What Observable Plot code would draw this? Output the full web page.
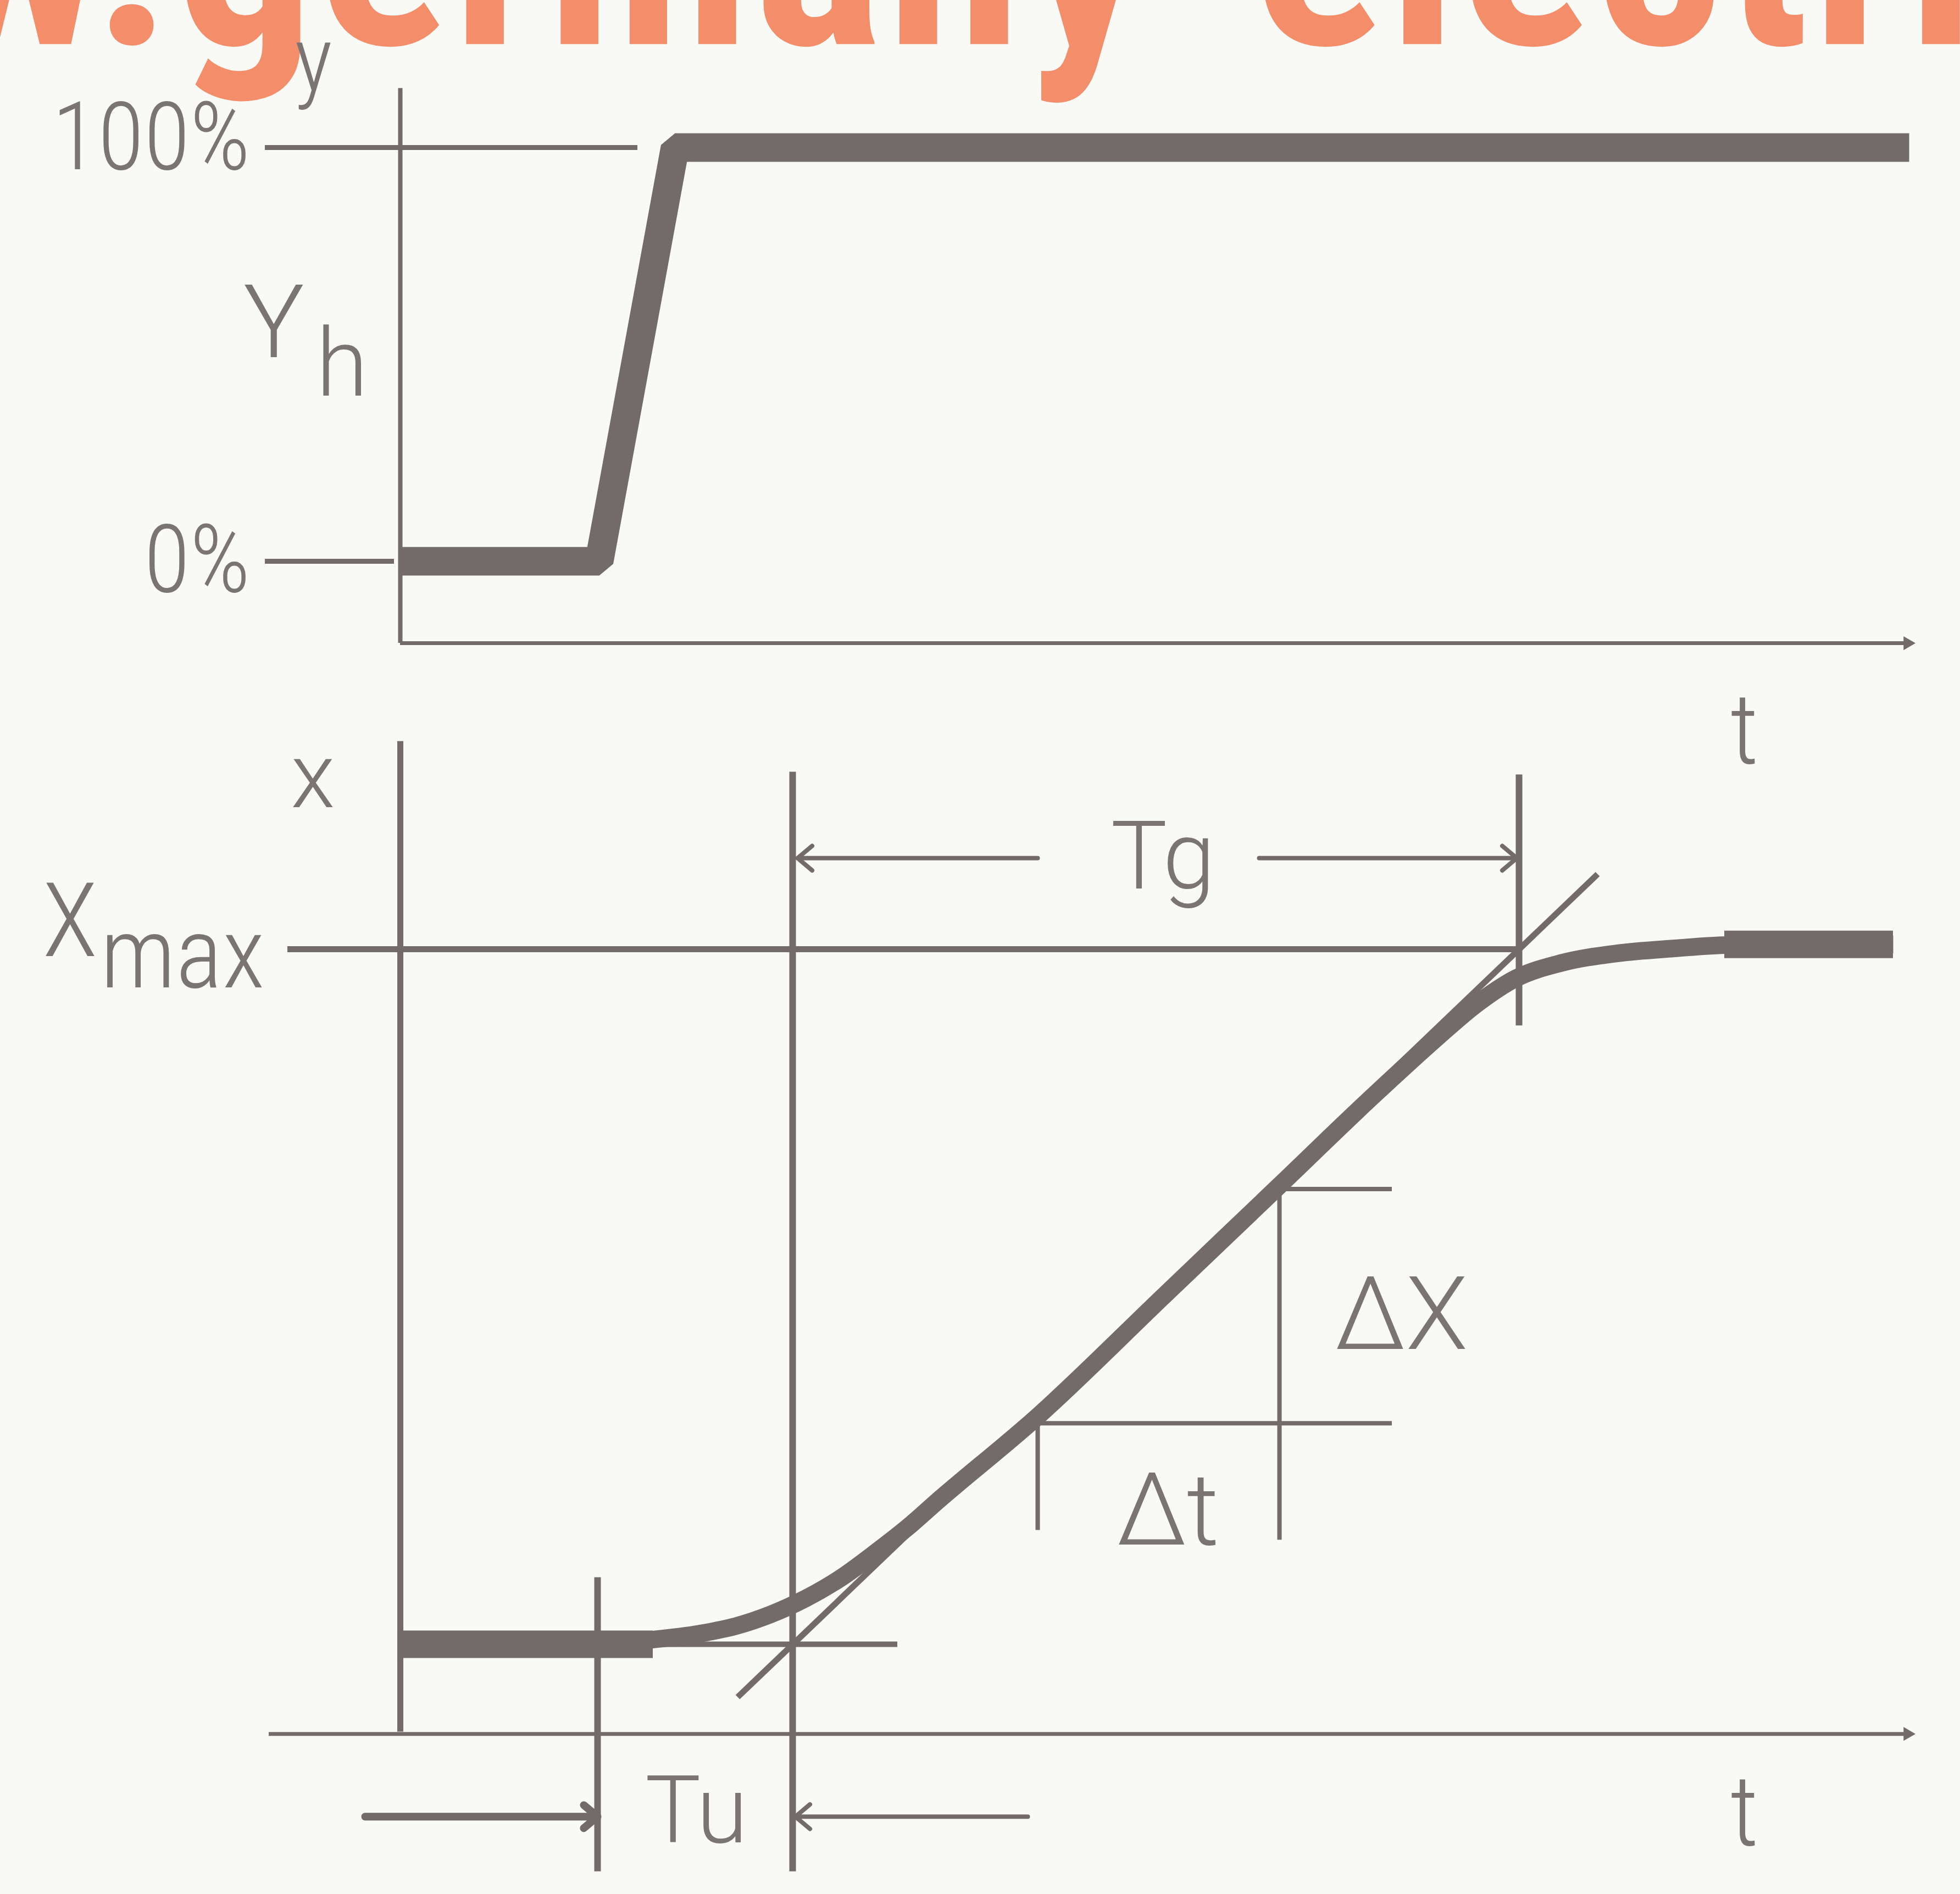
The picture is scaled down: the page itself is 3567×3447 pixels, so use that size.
<!DOCTYPE html>
<html>
<head>
<meta charset="utf-8">
<script src="https://cdn.jsdelivr.net/npm/d3@7"></script>
<script src="https://cdn.jsdelivr.net/npm/@observablehq/plot@0.6"></script>
<style>
  html, body { margin: 0; padding: 0; background: #f9f9f6; }
  #chart { width: 3567px; }
  #chart svg { display: block; }
</style>
</head>
<body>
<div id="chart"></div>
<script>
// ---------------- DATA (time t in arbitrary units, levels in % of full range) ----------------
// Upper panel: step of the manipulated variable y
const stepT = [0, 3.62, 5.0, 27.46];
const stepY = [0, 0, 100, 100];
const yTickValues = [0, 100];
const yTickLabels = ["0%", "100%"];
const yTickEnds = [-0.11, 4.32];

// Lower panel: step response x(t)
const respT = [0, 3.55, 4.5, 5.5, 6.1, 6.74, 7.38, 8.01, 8.65, 9.29, 9.72, 11.63, 13.88, 16.0, 17.72, 18.9, 19.57, 20.3, 21.12, 22.14, 23.16, 24.18, 27.17];
const respX = [0, 0, 0.6, 1.6, 2.6, 4.3, 6.6, 9.5, 13.2, 17.2, 20.2, 33.0, 50.0, 66.0, 79.0, 87.5, 92.0, 95.8, 98.0, 99.4, 100.1, 100.6, 100.7];

// Characteristic times
const Tu0 = 3.59;   // start of delay time Tu
const Tu1 = 7.14;   // end of Tu = start of Tg (tangent meets x = 0)
const Tg1 = 20.36;  // end of Tg (tangent meets Xmax)
const tangentT = [6.14, 21.79];
const tangentX = [-7.6, 110.8];

// Slope triangle (Δt, ΔX)
const slopeT = [11.6, 16.0];
const slopeX = [31.8, 65.5];

const labelsTop = ["y", "Y", "h"];
const labelsBottom = ["x", "X", "max", "Tg", "Tu", "ΔX", "Δt", "t", "t"];
const watermark = "w.germany-electri";

// ---------------- STYLE ----------------
const ink = "#736a6a";
const textInk = "#7a7474";
const fontNarrow = "'Roboto Condensed','Liberation Sans Narrow','Arial Narrow','DejaVu Sans Condensed',sans-serif";
const fontWide = "Roboto,'Liberation Sans','DejaVu Sans',sans-serif";
const wmFont = "'Liberation Sans Narrow','Arial Narrow','Roboto Condensed','DejaVu Sans Condensed',sans-serif";
const W = 3567;
const xScale = {type: "linear", domain: [0, 27.64], range: [728, 3492], axis: null};
const txtN = {fill: textInk, fontFamily: fontNarrow, fontWeight: 300, stroke: null};
const txtW = {fill: textInk, fontFamily: fontWide, fontWeight: 300, stroke: null};

// ---------------- UPPER PANEL ----------------
const stepData = stepT.map((t, i) => ({t, y: stepY[i]}));
const tickData = yTickValues.map((v, i) => ({v, label: yTickLabels[i], end: yTickEnds[i], ly: v === 100 ? 102 : 0}));

const topPlot = Plot.plot({
  width: W, height: 1195, margin: 0,
  x: xScale,
  y: {type: "linear", domain: [0, 100], range: [1021, 268], axis: null},
  style: {background: "transparent"},
  marks: [
    Plot.text([watermark], {x: -8.52, y: 125.0, text: d => d, textAnchor: "start", lineAnchor: "bottom",
      fontSize: 500, fontWeight: "bold", fontFamily: wmFont, fill: "#f48e6a"}),
    // axes
    Plot.ruleX([0], {x: d => d, y1: -19.8, y2: 114.3, stroke: ink, strokeWidth: 8}),
    Plot.ruleY([-19.8], {y: d => d, x1: 0, x2: 27.45, stroke: ink, strokeWidth: 7}),
    Plot.dot([-19.8], {x: 27.43, y: d => d, symbol: "triangle2", rotate: 90, r: 12, fill: ink, stroke: null}),
    // tick lines at 0 % and 100 %
    Plot.ruleY(tickData, {y: "v", x1: -2.46, x2: "end", stroke: ink, strokeWidth: 9}),
    Plot.text(tickData, {x: -2.73, y: "ly", text: "label", textAnchor: "end", fontSize: 172, ...txtN}),
    // step signal
    Plot.line(stepData, {x: "t", y: "y", stroke: ink, strokeWidth: 52, strokeLinejoin: "miter", strokeLinecap: "butt"}),
    // labels
    Plot.text([labelsTop[0]], {x: -1.58, y: 113.7, text: d => d, lineAnchor: "bottom", fontSize: 165, ...txtN}),
    Plot.text([labelsTop[1]], {x: -2.3, y: 49.3, text: d => d, lineAnchor: "bottom", fontSize: 185, ...txtW}),
    Plot.text([labelsTop[2]], {x: -1.06, y: 40.1, text: d => d, lineAnchor: "bottom", fontSize: 172, ...txtW})
  ]
});
// slight tracking on the watermark, as in the original
d3.select(topPlot).selectAll("text").filter(function() { return this.textContent === watermark; })
  .attr("letter-spacing", 6);

// ---------------- LOWER PANEL ----------------
const respData = respT.map((t, i) => ({t, x: respX[i]}));
const vRules = [
  {t: 0,   y1: -12.6, y2: 129.9, w: 11},
  {t: Tu0, y1: -32.7, y2: 9.6,   w: 12},
  {t: Tu1, y1: -32.7, y2: 125.5, w: 12},
  {t: Tg1, y1: 89.0,  y2: 125.1, w: 12},
  {t: slopeT[0], y1: 16.4, y2: slopeX[0], w: 8},
  {t: slopeT[1], y1: 15.0, y2: slopeX[1], w: 8}
];
const hRules = [
  {x: 100, t1: -2.05, t2: Tg1, w: 11},
  {x: 0, t1: 0, t2: 9.05, w: 10},
  {x: slopeX[0], t1: slopeT[0], t2: 18.05, w: 8},
  {x: slopeX[1], t1: slopeT[1], t2: 18.05, w: 8}
];
const thickEnds = [
  {x: 0, t1: 0, t2: 4.6},
  {x: 100.7, t1: 24.1, t2: 27.17}
];
const dimArrows = [
  {x1: 11.6, x2: 7.23, y: 113.1, w: 8, h: 6.5},
  {x1: 15.63, x2: 20.32, y: 113.1, w: 8, h: 6.5},
  {x1: -0.64, x2: Tu0, y: -24.8, w: 14, h: 3.5},
  {x1: 11.42, x2: 7.19, y: -24.8, w: 8, h: 6.5}
];
const lblB = [
  {s: labelsBottom[0], t: -1.59, x: 124.6, fs: 165, anchor: "middle", line: "middle", f: txtW},
  {s: labelsBottom[1], t: -6.01, x: 99.0, fs: 188, anchor: "middle", line: "bottom", f: txtN},
  {s: labelsBottom[2], t: -5.46, x: 94.5, fs: 180, anchor: "start", line: "bottom", f: txtN},
  {s: labelsBottom[3], t: 13.88, x: 113.1, fs: 172, anchor: "middle", line: "middle", f: txtW},
  {s: labelsBottom[4], t: 5.39, x: -24.2, fs: 170, anchor: "middle", line: "middle", f: txtW},
  {s: labelsBottom[5], t: 18.22, x: 47.2, fs: 185, anchor: "middle", line: "middle", f: txtW},
  {s: labelsBottom[6], t: 13.97, x: 19.0, fs: 183, anchor: "middle", line: "middle", f: txtW},
  {s: labelsBottom[7], t: 24.46, x: 131.3, fs: 180, anchor: "middle", line: "middle", f: txtN},
  {s: labelsBottom[8], t: 24.46, x: -24.3, fs: 180, anchor: "middle", line: "middle", f: txtN}
];

const bottomPlot = Plot.plot({
  width: W, height: 2252, margin: 0,
  x: xScale,
  y: {type: "linear", domain: [0, 100], range: [1797, 532], axis: null},
  style: {background: "transparent"},
  marks: [
    Plot.ruleX(vRules, {x: "t", y1: "y1", y2: "y2", stroke: ink, strokeWidth: "w"}),
    Plot.ruleY(hRules, {y: "x", x1: "t1", x2: "t2", stroke: ink, strokeWidth: "w"}),
    Plot.ruleY([-12.9], {y: d => d, x1: -2.39, x2: 27.45, stroke: ink, strokeWidth: 7}),
    Plot.dot([-12.9], {x: 27.43, y: d => d, symbol: "triangle2", rotate: 90, r: 12, fill: ink, stroke: null}),
    Plot.link([0], {x1: tangentT[0], y1: tangentX[0], x2: tangentT[1], y2: tangentX[1], stroke: ink, strokeWidth: 11}),
    Plot.line(respData, {x: "t", y: "x", curve: "monotone-x", stroke: ink, strokeWidth: 32, strokeLinecap: "butt"}),
    Plot.ruleY(thickEnds, {y: "x", x1: "t1", x2: "t2", stroke: ink, strokeWidth: 50}),
    ...dimArrows.map(a => Plot.arrow([a], {x1: "x1", x2: "x2", y1: "y", y2: "y", stroke: ink, strokeWidth: a.w, headLength: a.h, headAngle: 80})),
    ...lblB.map(l => Plot.text([l], {x: "t", y: "x", text: "s", textAnchor: l.anchor, lineAnchor: l.line, fontSize: l.fs, ...l.f}))
  ]
});

const chart = document.getElementById("chart");
chart.append(topPlot, bottomPlot);
</script>
</body>
</html>
